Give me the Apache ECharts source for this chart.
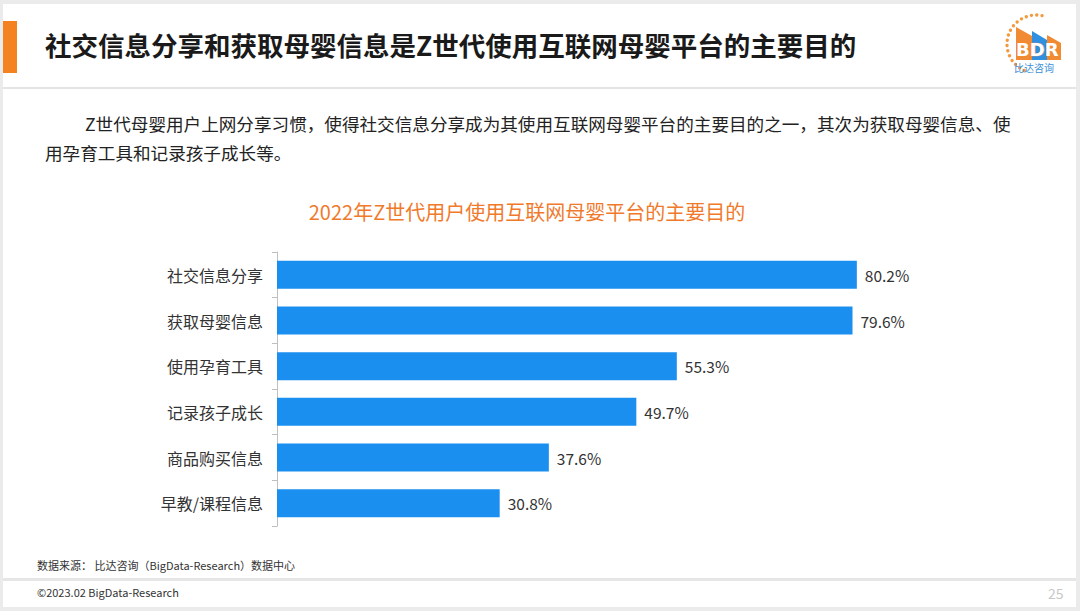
<!DOCTYPE html>
<html>
<head>
<meta charset="utf-8">
<script src="https://cdn.jsdelivr.net/npm/echarts@6/dist/echarts.min.js"></script>
<style>
html,body{margin:0;padding:0;background:#ebebeb;}
#c{width:1080px;height:611px;}
</style>
</head>
<body>
<div id="c"></div>
<script>
var categories = ['社交信息分享','获取母婴信息','使用孕育工具','记录孩子成长','商品购买信息','早教/课程信息'];
var values = [80.2, 79.6, 55.3, 49.7, 37.6, 30.8];
var pageTitle = '社交信息分享和获取母婴信息是Z世代使用互联网母婴平台的主要目的';
var introLine1 = 'Z世代母婴用户上网分享习惯，使得社交信息分享成为其使用互联网母婴平台的主要目的之一，其次为获取母婴信息、使';
var introLine2 = '用孕育工具和记录孩子成长等。';
var chartTitle = '2022年Z世代用户使用互联网母婴平台的主要目的';
var sourceText = '数据来源： 比达咨询（BigData-Research）数据中心';
var footerText = '©2023.02 BigData-Research';
var pageNo = '25';

var FONT = '"Noto Sans CJK SC","Noto Sans",sans-serif';
var chart = echarts.init(document.getElementById('c'), null, {renderer:'svg'});

var dots = [];
for (var i = 0; i < 17; i++) {
  var a = (78 + i * 10.5) * Math.PI / 180;
  dots.push({type:'circle', shape:{cx:1036 + 29*Math.cos(a), cy:44 - 29*Math.sin(a), r:1.7}, style:{fill:'#f39a3d'}});
}

chart.setOption({
  backgroundColor:'#ebebeb',
  animation:false,
  textStyle:{fontFamily:FONT},
  grid:{left:277, right:80, top:252, bottom:85, containLabel:false},
  xAxis:{type:'value', min:0, max:100, show:false},
  yAxis:{
    type:'category', data:categories, inverse:true,
    axisLine:{lineStyle:{color:'#bfbfbf', width:1}},
    axisTick:{show:true, length:5, lineStyle:{color:'#bfbfbf'}},
    axisLabel:{color:'#333', fontSize:16, margin:14, fontFamily:FONT}
  },
  series:[{
    type:'bar', data:values, barWidth:28,
    itemStyle:{color:'#1a8ff0'},
    label:{show:true, position:'right', distance:8, color:'#333', fontSize:15.5, fontFamily:FONT,
      formatter:function(p){return p.value.toFixed(1)+'%';}}
  }],
  graphic:[
    {type:'rect', z:-10, shape:{x:3, y:4, width:1073, height:603}, style:{fill:'#ffffff'}},
    {type:'rect', z:-5, shape:{x:3, y:21, width:14, height:52}, style:{fill:'#f58220'}},
    {type:'rect', z:-5, shape:{x:3, y:87, width:1073, height:2}, style:{fill:'#e4e4e4'}},
    {type:'rect', z:-5, shape:{x:3, y:578, width:1073, height:3}, style:{fill:'#e6e6e6'}},
    {type:'text', left:45, top:31, style:{text:pageTitle, font:'bold 26.5px '+FONT, fill:'#1a1a1a'}},
    {type:'text', left:85, top:115, style:{text:introLine1, font:'17.6px '+FONT, fill:'#222'}},
    {type:'text', left:45, top:144, style:{text:introLine2, font:'17.6px '+FONT, fill:'#222'}},
    {type:'text', x:527, y:201, style:{text:chartTitle, font:'20px '+FONT, fill:'#f07a2c', textAlign:'center'}},
    {type:'text', left:37, top:559, style:{text:sourceText, font:'11px '+FONT, fill:'#333'}},
    {type:'text', left:37, top:586, style:{text:footerText, font:'11px '+FONT, fill:'#333'}},
    {type:'text', left:1048, top:586, style:{text:pageNo, font:'14px '+FONT, fill:'#c8c8c8'}},
    {type:'group', children: dots.concat([
      {type:'polygon', shape:{points:[[1016,27],[1032,36],[1032,60],[1016,60]]}, style:{fill:'#f08a33'}},
      {type:'polygon', shape:{points:[[1032,31],[1047,40],[1047,60],[1032,60]]}, style:{fill:'#2f8fe0'}},
      {type:'polygon', shape:{points:[[1047,35],[1061,43],[1061,60],[1047,60]]}, style:{fill:'#f08a33'}},
      {type:'text', x:1016, y:40, style:{text:'BDR', font:'bold 18px "DejaVu Sans",sans-serif', fill:'#ffffff', stroke:'#f08a33', lineWidth:0.6}},
      {type:'text', x:1014, y:62, style:{text:'比达咨询', font:'10px '+FONT, fill:'#3a8fd8'}}
    ])}
  ]
});
</script>
</body>
</html>
